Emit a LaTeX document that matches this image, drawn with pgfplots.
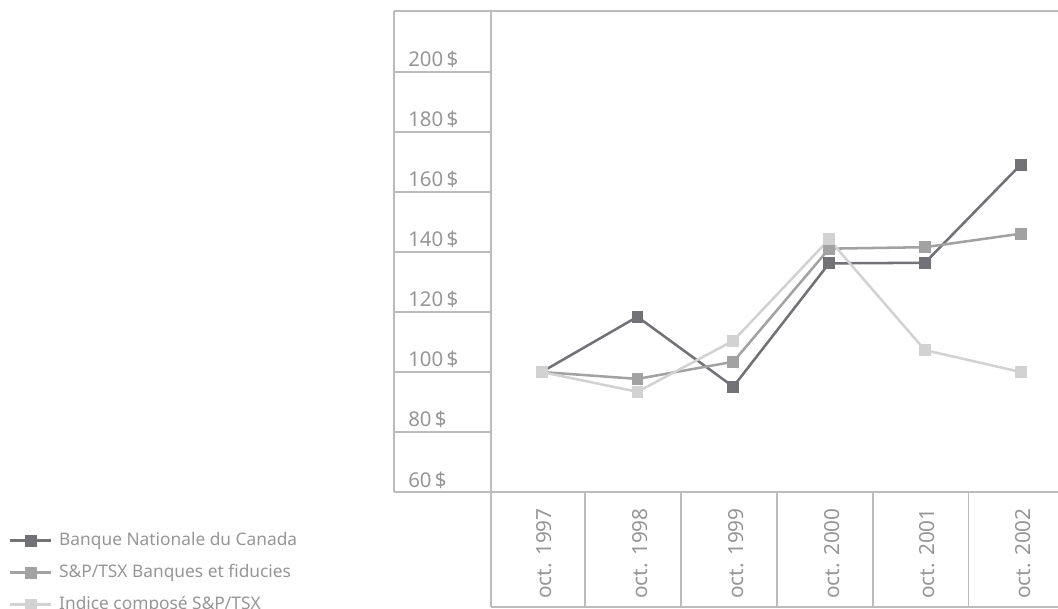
\documentclass[border=0pt]{standalone}
\usepackage{fontspec}
\setmainfont{Noto Sans}
\usepackage{pgfplots}
\pgfplotsset{compat=1.18}
\definecolor{cdark}{RGB}{114,114,118}
\definecolor{cmid}{RGB}{162,162,162}
\definecolor{clight}{RGB}{210,210,210}
\definecolor{ctext}{RGB}{150,150,150}
\definecolor{cbox}{RGB}{188,188,188}
\begin{document}
\begin{tikzpicture}
\path[use as bounding box] (-368pt,-87pt) rectangle (425.5pt,369pt);
\clip (-368pt,-87pt) rectangle (425.5pt,369pt);
\begin{axis}[
  at={(0pt,0pt)}, anchor=south west,
  scale only axis, width=425.5pt, height=361pt,
  xmin=-0.532, xmax=5.389, ymin=60, ymax=220.43,
  clip=false,
  axis line style={draw=none},
  major tick length=0pt, tick style={draw=none},
  xtick={0,1,2,3,4,5},
  xticklabels={oct. 1997,oct. 1998,oct. 1999,oct. 2000,oct. 2001,oct. 2002},
  xticklabel style={rotate=90, anchor=east, inner ysep=0pt, inner xsep=12pt, yshift=-2pt, font=\fontsize{15.6pt}{18pt}\selectfont, text=ctext},
  ytick={60,80,100,120,140,160,180,200},
  yticklabels={60\,\$,80\,\$,100\,\$,120\,\$,140\,\$,160\,\$,180\,\$,200\,\$},
  yticklabel style={anchor=base west, inner sep=0pt, xshift=-62pt, yshift=3.75pt, font=\fontsize{15.3pt}{18pt}\selectfont, text=ctext},
  legend cell align=left,
  legend style={at={(-0.849,-0.0831)}, anchor=north west, draw=none, fill=none, inner sep=0pt, outer sep=0pt, row sep=11pt, column sep=5pt, font=\fontsize{13pt}{15pt}\selectfont, text=ctext, nodes={inner sep=0pt, text height=10pt, text depth=3pt}},
  legend image code/.code={\draw[mark repeat=2,mark phase=2,#1] plot coordinates {(0pt,0pt) (15.4pt,0pt) (30.75pt,0pt)};},
  every axis plot/.append style={line width=1.9pt, mark=square*, mark size=3.5pt, mark options={solid}},
]
% frame
\draw[cbox, line width=1.4pt] (axis cs:-1.541,220.43) -- (axis cs:5.6,220.43);
\draw[cbox, line width=1.4pt] (axis cs:-1.541,220.43) -- (axis cs:-1.541,60);
\draw[cbox, line width=1.4pt] (axis cs:-0.532,220.43) -- (axis cs:-0.532,21.67);
\draw[cbox, line width=1.4pt] (axis cs:-1.541,60) -- (axis cs:5.6,60);
\draw[cbox, line width=1.4pt] (axis cs:-0.532,21.67) -- (axis cs:5.6,21.67);
\pgfplotsinvokeforeach{80,100,120,140,160,180,200}{
  \draw[cbox, line width=1.4pt] (axis cs:-1.541,#1) -- (axis cs:-0.532,#1);
}
\pgfplotsinvokeforeach{0.455,1.455,2.455,3.455,4.455}{
  \draw[cbox, line width=1.4pt] (axis cs:#1,60) -- (axis cs:#1,21.67);
}
\addplot[color=cdark] coordinates {(0,100) (1,118.4) (2,95.1) (3,136.2) (4,136.4) (5,169.1)};
\addlegendentry{Banque Nationale du Canada}
\addplot[color=cmid] coordinates {(0,100) (1,97.7) (2,103.4) (3,141.1) (4,141.6) (5,146.1)};
\addlegendentry{S\&P/TSX Banques et fiducies}
\addplot[color=clight] coordinates {(0,100) (1,93.4) (2,110.4) (3,144.2) (4,107.3) (5,100)};
\addlegendentry{Indice composé S\&P/TSX}
\end{axis}
\end{tikzpicture}
\end{document}
